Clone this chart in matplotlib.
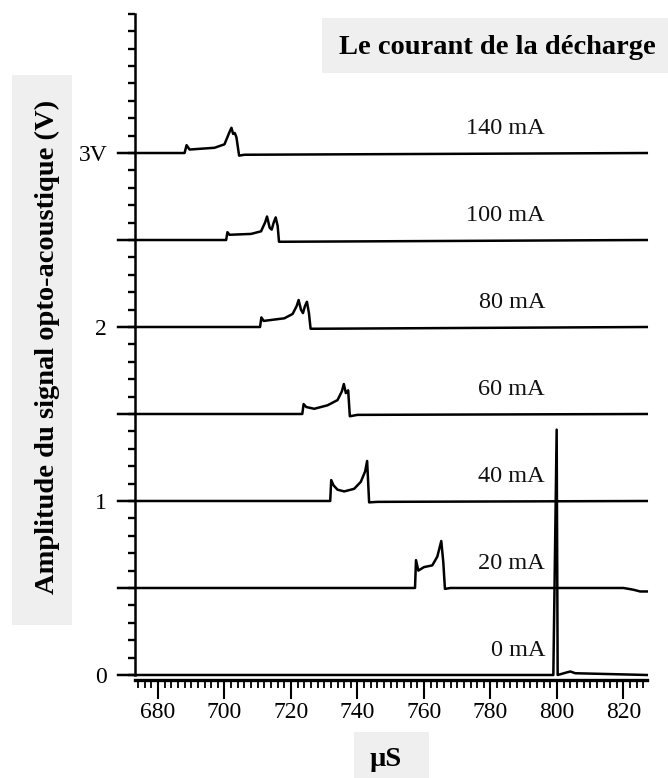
import matplotlib
matplotlib.use("Agg")
import matplotlib.pyplot as plt
from matplotlib.patches import Rectangle
from matplotlib.ticker import FixedLocator

plt.rcParams['font.family'] = ['Liberation Serif', 'DejaVu Serif']

# ---- data ----
currents = ["140 mA", "100 mA", "80 mA", "60 mA", "40 mA", "20 mA", "0 mA"]
baselines = [3.0, 2.5, 2.0, 1.5, 1.0, 0.5, 0.0]

t_140 = [668, 688.0, 688.6, 689.5, 697, 700, 701.5, 702.1, 702.6, 703.1, 703.6, 704.4, 706, 827]
v_140 = [0, 0, 0.045, 0.02, 0.03, 0.05, 0.12, 0.145, 0.11, 0.115, 0.09, -0.015, -0.01, 0]

t_100 = [668, 700.5, 700.9, 701.5, 708, 711, 712.2, 712.8, 713.6, 714.2, 714.8, 715.4, 716.0, 716.4, 718, 827]
v_100 = [0, 0, 0.045, 0.03, 0.035, 0.05, 0.10, 0.135, 0.07, 0.06, 0.10, 0.13, 0.08, -0.01, -0.01, 0]

t_80 = [668, 710.7, 711.1, 711.8, 718, 720.5, 721.7, 722.3, 723.0, 723.6, 724.2, 724.8, 725.4, 725.9, 728, 827]
v_80 = [0, 0, 0.055, 0.035, 0.05, 0.075, 0.12, 0.155, 0.10, 0.08, 0.12, 0.145, 0.08, -0.01, -0.01, 0]

t_60 = [668, 723.4, 723.8, 724.6, 727, 731, 734, 735.3, 735.9, 736.5, 737.2, 737.7, 740, 827]
v_60 = [0, 0, 0.057, 0.04, 0.03, 0.05, 0.08, 0.13, 0.172, 0.12, 0.136, -0.013, -0.005, 0]

t_40 = [668, 731.8, 732.1, 732.8, 734, 736, 739, 741, 742.3, 742.9, 743.5, 746, 827]
v_40 = [0, 0, 0.12, 0.09, 0.065, 0.055, 0.07, 0.11, 0.17, 0.23, -0.008, -0.005, 0]

t_20 = [668, 757.3, 757.6, 758.3, 760, 762.5, 764, 765.2, 765.8, 766.3, 768, 820, 823, 825, 827]
v_20 = [0, 0, 0.16, 0.10, 0.12, 0.13, 0.18, 0.27, 0.15, -0.005, 0, 0, -0.01, -0.02, -0.02]

t_0 = [668, 798.9, 799.9, 800.2, 803, 804, 805.5, 827]
v_0 = [0, 0, 1.41, 0, 0.015, 0.02, 0.01, 0]

times = [t_140, t_100, t_80, t_60, t_40, t_20, t_0]
signals = [v_140, v_100, v_80, v_60, v_40, v_20, v_0]

x_ticks = [680, 700, 720, 740, 760, 780, 800, 820]
y_ticks = [0, 1, 2, 3]
y_ticklabels = ["0", "1", "2", "3V"]

title_text = "Le courant de la décharge"
ylabel_text = "Amplitude du signal opto-acoustique (V)"
xlabel_text = "µS"

# ---- figure ----
W, H = 668, 778
fig = plt.figure(figsize=(W / 100, H / 100), dpi=100)
ax = fig.add_axes([116.4 / W, 1 - 680.2 / H, (650.1 - 116.4) / W, (680.2 - 8.6) / H])
ax.set_facecolor('none')

for t, v, b in zip(times, signals, baselines):
    ax.plot(t, [b + s for s in v], color='black', lw=1.8, solid_joinstyle='round', clip_on=False)

for lab, b in zip(currents, baselines):
    ax.text(796.4, b + 0.14, lab, ha='right', va='center', fontsize=17.5, color='#111111')

ax.set_xlim(667.5, 828)
ax.set_ylim(-0.03, 3.83)

ax.spines['top'].set_visible(False)
ax.spines['right'].set_visible(False)
ax.spines['left'].set_position(('data', 673.1))
ax.spines['left'].set_bounds(0, 3.8)
ax.spines['left'].set_linewidth(1.8)
ax.spines['bottom'].set_bounds(673.1, 827)
ax.spines['bottom'].set_linewidth(2.4)

ax.xaxis.set_major_locator(FixedLocator(x_ticks))
ax.xaxis.set_minor_locator(FixedLocator([x for x in range(674, 828, 2)]))
ax.set_xticklabels([str(x) for x in x_ticks])
ax.yaxis.set_major_locator(FixedLocator(y_ticks))
ax.yaxis.set_minor_locator(FixedLocator([i / 10 for i in range(0, 39)]))
ax.set_yticklabels(y_ticklabels)

ax.tick_params(axis='x', which='major', direction='out', length=14, width=1.5, pad=2, labelsize=17)
ax.tick_params(axis='x', which='minor', direction='out', length=5.5, width=1.3)
ax.tick_params(axis='y', which='major', direction='out', length=5, width=1.7, pad=15, labelsize=17)
ax.tick_params(axis='y', which='minor', direction='out', length=5, width=1.7)

# ---- grey label boxes ----
grey = '#efefef'
fig.add_artist(Rectangle((322 / W, 1 - 73 / H), 346 / W, 55 / H, transform=fig.transFigure,
                         facecolor=grey, edgecolor='none', zorder=0))
fig.add_artist(Rectangle((12 / W, 1 - 625 / H), 60 / W, 550 / H, transform=fig.transFigure,
                         facecolor=grey, edgecolor='none', zorder=0))
fig.add_artist(Rectangle((354 / W, 0), 75 / W, 46 / H, transform=fig.transFigure,
                         facecolor=grey, edgecolor='none', zorder=0))

fig.text(497 / W, 1 - 47 / H, title_text, ha='center', va='center', fontsize=20.5, fontweight='bold')
fig.text(47 / W, 1 - 347 / H, ylabel_text, ha='center', va='center', rotation=90,
         fontsize=20.5, fontweight='bold')
fig.text(385.5 / W, 1 - 760 / H, xlabel_text, ha='center', va='center', fontsize=20.5, fontweight='bold')

fig.savefig("out.png", dpi=100)
